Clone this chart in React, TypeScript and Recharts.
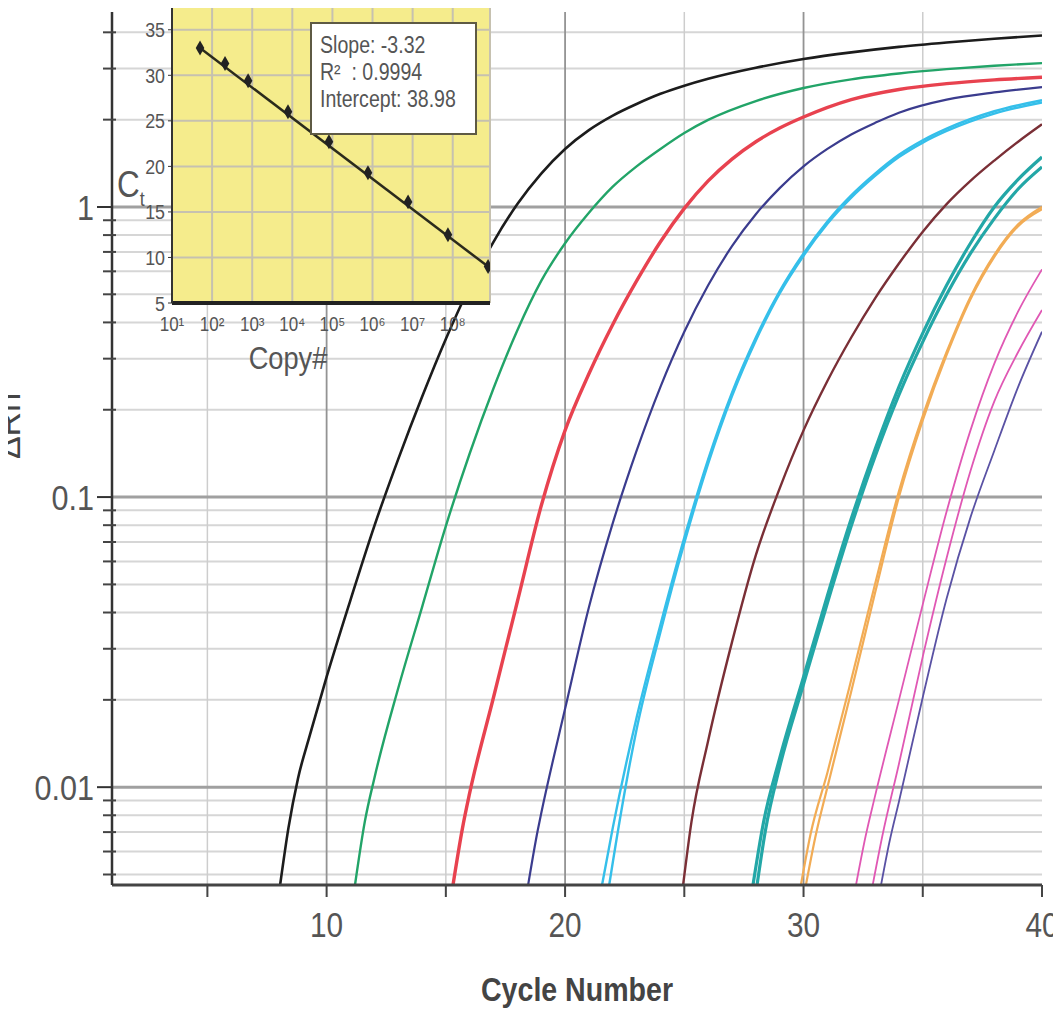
import React from "react";
import {
  LineChart,
  Line,
  XAxis,
  YAxis,
  ReferenceLine,
  ComposedChart,
  Scatter,
  CartesianGrid,
  Label,
} from "recharts";

const FONT = "'Liberation Sans', Arial, Helvetica, sans-serif";
const SX = 0.85; // horizontal squeeze to imitate a narrow face

// ---------- main chart axes ----------
const xTicks = [5, 10, 15, 20, 25, 30, 35, 40];
const xLabelled = [10, 20, 30, 40];
const xGridMajor = [10, 20, 30];
const xGridMinor = [5, 15, 25, 35];
const yMajor = [0.01, 0.1, 1];
const yMinor = [
  0.005, 0.006, 0.007, 0.008, 0.009,
  0.02, 0.03, 0.04, 0.05, 0.06, 0.07, 0.08, 0.09,
  0.2, 0.3, 0.4, 0.5, 0.6, 0.7, 0.8, 0.9,
  2, 3, 4,
];
const yDomain = [0.0046, 4.7];

// ---------- amplification curves: [cycle, ΔRn] ----------
const black = [[8.05,0.0046],[8.4,0.00724],[8.8,0.01072],[9.3,0.01514],[10,0.02399],[11,0.04416],[12,0.07943],[13,0.1349],[14,0.2213],[15,0.3508],[16,0.5309],[17,0.7586],[18,1.0233],[19,1.3032],[20,1.5849],[21,1.8408],[22,2.0654],[23,2.2646],[24,2.4547],[25,2.6182],[26,2.7669],[28,3.02],[30,3.2359],[32,3.4119],[34,3.5645],[36,3.6898],[38,3.8019],[40,3.8994]];
const green = [[11.19,0.0046],[11.6,0.00759],[12,0.01072],[13,0.02188],[14,0.04169],[15,0.07943],[16,0.1413],[17,0.2371],[18,0.3758],[19,0.5559],[20,0.7499],[21,0.955],[22,1.1749],[23,1.3804],[24,1.5849],[25,1.7989],[26,1.9953],[28,2.3174],[30,2.5704],[32,2.7542],[34,2.884],[36,2.9854],[38,3.069],[40,3.1333]];
const red = [[15.3,0.0046],[15.7,0.00724],[16,0.00955],[17,0.02042],[18,0.04365],[19,0.09333],[20,0.1698],[21,0.2661],[22,0.3936],[23,0.5559],[24,0.7586],[25,0.9886],[26,1.2303],[27,1.4622],[28,1.6788],[29,1.8707],[30,2.0417],[32,2.3442],[34,2.541],[36,2.6607],[38,2.7416],[40,2.799]];
const navy = [[18.45,0.0046],[18.85,0.00708],[19,0.00813],[20,0.01862],[21,0.04169],[22,0.08128],[23,0.1445],[24,0.2399],[25,0.3715],[26,0.537],[27,0.7328],[28,0.9441],[29,1.1614],[30,1.3804],[31,1.5849],[32,1.7783],[33,1.9498],[34,2.1135],[36,2.3442],[38,2.4831],[40,2.5882]];
const cyanA = [[21.55,0.0046],[22,0.00724],[23,0.01738],[24,0.03631],[25,0.07244],[26,0.1349],[27,0.2291],[28,0.3548],[29,0.5129],[30,0.6918],[31,0.8913],[32,1.0965],[33,1.3032],[34,1.5136],[35,1.6982],[36,1.8621],[38,2.138],[40,2.3335]];
const cyanB = [[21.85,0.0046],[22,0.0055],[23,0.01585],[24,0.03428],[25,0.0695],[26,0.1303],[27,0.2228],[28,0.3467],[29,0.5035],[30,0.6792],[31,0.875],[32,1.0765],[33,1.2794],[34,1.4859],[35,1.6672],[36,1.8281],[38,2.0989],[40,2.2909]];
const brown = [[24.95,0.0046],[25.3,0.00759],[26,0.01445],[27,0.03162],[28,0.0631],[29,0.1072],[30,0.1698],[31,0.2512],[32,0.3548],[33,0.4842],[34,0.6383],[35,0.8222],[36,1.0233],[37,1.2303],[38,1.4454],[39,1.6788],[40,1.9275]];
const tealA = [[27.88,0.0046],[28.3,0.00741],[29,0.01259],[30,0.02399],[31,0.04571],[32,0.08414],[33,0.1462],[34,0.2399],[35,0.3673],[36,0.537],[37,0.7499],[38,1.0],[39,1.2445],[40,1.486]];
const tealB = [[28.05,0.0046],[28.4,0.00708],[29,0.01175],[30,0.02265],[31,0.04315],[32,0.07943],[33,0.138],[34,0.2249],[35,0.3428],[36,0.4989],[37,0.6918],[38,0.912],[39,1.1535],[40,1.374]];
const orangeA = [[29.89,0.0046],[30.3,0.00692],[31,0.01122],[32,0.02344],[33,0.05012],[34,0.1047],[35,0.1905],[36,0.3162],[37,0.4898],[38,0.6839],[39,0.871],[40,1.0]];
const orangeB = [[30.1,0.0046],[30.5,0.00676],[31,0.01],[32,0.02138],[33,0.04677],[34,0.1],[35,0.1841],[36,0.309],[37,0.4808],[38,0.673],[39,0.859],[40,0.9817]];
const pinkA = [[32.2,0.0046],[32.6,0.00676],[33,0.00933],[34,0.01995],[35,0.04266],[36,0.08913],[37,0.1698],[38,0.2884],[39,0.4365],[40,0.6095]];
const pinkB = [[32.9,0.0046],[33.3,0.00676],[34,0.01202],[35,0.02818],[36,0.06166],[37,0.123],[38,0.2138],[39,0.3162],[40,0.4416]];
const violet = [[33.25,0.0046],[33.6,0.00646],[34,0.00891],[35,0.02042],[36,0.04467],[37,0.08511],[38,0.1445],[39,0.2399],[40,0.3715]];

const seriesStyle = [
  { name: "black", pts: black, color: "#1c1c1c", w: 2.6 },
  { name: "green", pts: green, color: "#22a468", w: 2.4 },
  { name: "red", pts: red, color: "#e8424f", w: 3.4 },
  { name: "navy", pts: navy, color: "#3b3c8e", w: 2.2 },
  { name: "cyanA", pts: cyanA, color: "#35bfea", w: 2.4 },
  { name: "cyanB", pts: cyanB, color: "#35bfea", w: 2.4 },
  { name: "brown", pts: brown, color: "#7a2f36", w: 2.4 },
  { name: "tealA", pts: tealA, color: "#23a7a7", w: 3.2 },
  { name: "tealB", pts: tealB, color: "#23a7a7", w: 3.2 },
  { name: "orangeA", pts: orangeA, color: "#f2ac55", w: 2.2 },
  { name: "orangeB", pts: orangeB, color: "#f2ac55", w: 2.2 },
  { name: "pinkA", pts: pinkA, color: "#e058b4", w: 1.8 },
  { name: "pinkB", pts: pinkB, color: "#e058b4", w: 1.8 },
  { name: "violet", pts: violet, color: "#5a52a4", w: 1.8 },
];

// ---------- inset: standard curve ----------
const insetCopies = [50, 210, 790, 7800, 82000, 770000, 7.7e6, 7.6e7, 7.6e8];
const insetCt = [33.0, 31.3, 29.4, 26.0, 22.7, 19.3, 16.1, 12.5, 9.0];
const fitCopies = [50, 7.6e8];
const fitCt = [33.0, 9.0];
const insetXTicks = [10, 100, 1e3, 1e4, 1e5, 1e6, 1e7, 1e8];
const insetXLabels = ["10¹", "10²", "10³", "10⁴", "10⁵", "10⁶", "10⁷", "10⁸"];
const insetYTicks = [5, 10, 15, 20, 25, 30, 35];
const statLines = ["Slope: -3.32", "R²  : 0.9994", "Intercept: 38.98"];

const insetPoints = insetCopies.map((n, i) => ({ n, ct: insetCt[i] }));
const fitLine = fitCopies.map((n, i) => ({ n, ct: fitCt[i] }));

const NarrowText = ({ x, y, size, anchor, dy, fill, weight, children }: any) => (
  <text
    transform={`translate(${x},${y}) scale(${SX},1)`}
    x={0}
    y={0}
    dy={dy}
    textAnchor={anchor}
    fontSize={size}
    fill={fill}
    fontWeight={weight}
    fontFamily={FONT}
  >
    {children}
  </text>
);

const XTick = (props: any) => {
  const { x, y, payload } = props;
  if (!xLabelled.includes(payload.value)) return null;
  return (
    <NarrowText x={x} y={y} dy="0.71em" anchor="middle" size={35} fill="#555">
      {payload.value}
    </NarrowText>
  );
};

const YTick = (props: any) => {
  const { x, y, payload } = props;
  const major = yMajor.includes(payload.value);
  if (major) {
    return (
      <g>
        <line x1={x - 15} x2={x} y1={y} y2={y} stroke="#333" strokeWidth={2} />
        <NarrowText x={x - 18} y={y} dy="0.36em" anchor="end" size={36} fill="#555">
          {payload.value}
        </NarrowText>
      </g>
    );
  }
  return <line x1={x - 9} x2={x + 4} y1={y} y2={y} stroke="#444" strokeWidth={2} />;
};

const XTitle = (props: any) => {
  const vb = props.viewBox;
  return (
    <text
      x={vb.x + vb.width / 2 - 96}
      y={vb.y + 116}
      textLength={192}
      lengthAdjust="spacingAndGlyphs"
      fontSize={33}
      fontWeight="bold"
      fill="#444"
      fontFamily={FONT}
    >
      Cycle Number
    </text>
  );
};

const YTitle = () => (
  <text x={12} y={418} transform="rotate(-90 12 418)" textAnchor="middle" fontSize={34} fill="#444" fontFamily={FONT}>
    ΔRn
  </text>
);

const CopyLabel = (props: any) => {
  const vb = props.viewBox;
  return (
    <NarrowText x={188} y={vb.y + 66} anchor="middle" size={32} fill="#555">
      Copy#
    </NarrowText>
  );
};

const CtLabel = () => (
  <text transform={`translate(17,197) scale(${SX},1)`} x={0} y={0} fontSize={37} fill="#555" fontFamily={FONT}>
    C<tspan fontSize={21} dy={9}>t</tspan>
  </text>
);

const InsetXTick = (props: any) => {
  const { x, y, payload } = props;
  return (
    <NarrowText x={x} y={y} dy="0.71em" anchor="middle" size={20} fill="#555">
      {insetXLabels[insetXTicks.indexOf(payload.value)] ?? ""}
    </NarrowText>
  );
};

const InsetYTick = (props: any) => {
  const { x, y, payload } = props;
  return (
    <NarrowText x={x} y={y} dy="0.36em" anchor="end" size={21} fill="#555">
      {payload.value}
    </NarrowText>
  );
};

export default function App() {
  const yTicks = [...yMinor, ...yMajor].sort((a, b) => a - b);
  return (
    <div style={{ position: "relative", width: 1053, height: 1002 }}>
      <style>{"html,body{overflow:hidden}"}</style>
      <LineChart width={1053} height={1002} margin={{ top: 4, right: 19, left: 44, bottom: 0 }}>
        <XAxis
          type="number"
          dataKey="c"
          domain={[1, 40]}
          ticks={xTicks}
          interval={0}
          allowDataOverflow
          height={125}
          tickSize={12}
          tickMargin={15}
          tick={<XTick />}
          axisLine={{ stroke: "#444", strokeWidth: 3 }}
          tickLine={{ stroke: "#444", strokeWidth: 2 }}
        >
          <Label content={<XTitle />} />
        </XAxis>
        <YAxis
          type="number"
          dataKey="v"
          scale="log"
          domain={yDomain}
          allowDataOverflow
          ticks={yTicks}
          interval={0}
          width={60}
          tickSize={0}
          tickMargin={0}
          tickLine={false}
          tick={<YTick />}
          axisLine={{ stroke: "#333", strokeWidth: 2.5 }}
        >
          <Label content={<YTitle />} />
        </YAxis>
        {yMinor.map((v) => (
          <ReferenceLine key={"ym" + v} y={v} stroke="#d6d6d6" strokeWidth={2} />
        ))}
        {xGridMinor.map((v) => (
          <ReferenceLine key={"xm" + v} x={v} stroke="#cdcdcd" strokeWidth={1.5} />
        ))}
        {xGridMajor.map((v) => (
          <ReferenceLine key={"xM" + v} x={v} stroke="#939393" strokeWidth={1.8} />
        ))}
        {yMajor.map((v) => (
          <ReferenceLine key={"yM" + v} y={v} stroke="#a0a0a0" strokeWidth={3} />
        ))}
        {seriesStyle.map((s) => (
          <Line
            key={s.name}
            data={s.pts.map(([c, v]) => ({ c, v }))}
            dataKey="v"
            type="monotone"
            stroke={s.color}
            strokeWidth={s.w}
            dot={false}
            activeDot={false}
            isAnimationActive={false}
          />
        ))}
      </LineChart>

      <div style={{ position: "absolute", left: 92, top: -8, width: 400, height: 380 }}>
        <ComposedChart width={400} height={380} margin={{ top: 7, right: 10, left: 42, bottom: 0 }}>
          <CartesianGrid fill="#f5ec8c" fillOpacity={1} stroke="#c6c1b0" strokeWidth={2} />
          <XAxis
            type="number"
            dataKey="n"
            scale="log"
            domain={[10, 8.5e8]}
            allowDataOverflow
            ticks={insetXTicks}
            interval={0}
            height={77}
            tickLine={false}
            tickMargin={8}
            tick={<InsetXTick />}
            axisLine={{ stroke: "#222", strokeWidth: 4 }}
          >
            <Label content={<CopyLabel />} />
          </XAxis>
          <YAxis
            type="number"
            dataKey="ct"
            domain={[5, 37.5]}
            allowDataOverflow
            ticks={insetYTicks}
            interval={0}
            width={30}
            tickSize={4}
            tickMargin={3}
            tick={<InsetYTick />}
            tickLine={{ stroke: "#333" }}
            axisLine={{ stroke: "#333", strokeWidth: 2 }}
          >
            <Label content={<CtLabel />} />
          </YAxis>
          <Line data={fitLine} dataKey="ct" type="linear" stroke="#2b2b1c" strokeWidth={2.5} dot={false} activeDot={false} isAnimationActive={false} />
          <Scatter data={insetPoints} dataKey="ct" fill="#222" shape="diamond" isAnimationActive={false} />
        </ComposedChart>
      </div>

      <div
        style={{
          position: "absolute",
          left: 302,
          top: 14,
          width: 155,
          height: 101,
          background: "#fff",
          border: "2px solid #5e5a44",
          fontFamily: FONT,
          fontSize: 23,
          lineHeight: "27px",
          color: "#555",
          paddingLeft: 8,
          paddingTop: 8,
          boxSizing: "content-box",
          whiteSpace: "pre",
          overflow: "hidden",
        }}
      >
        {statLines.map((t) => (
          <div key={t} style={{ transform: `scaleX(${SX})`, transformOrigin: "left center" }}>
            {t}
          </div>
        ))}
      </div>
    </div>
  );
}
